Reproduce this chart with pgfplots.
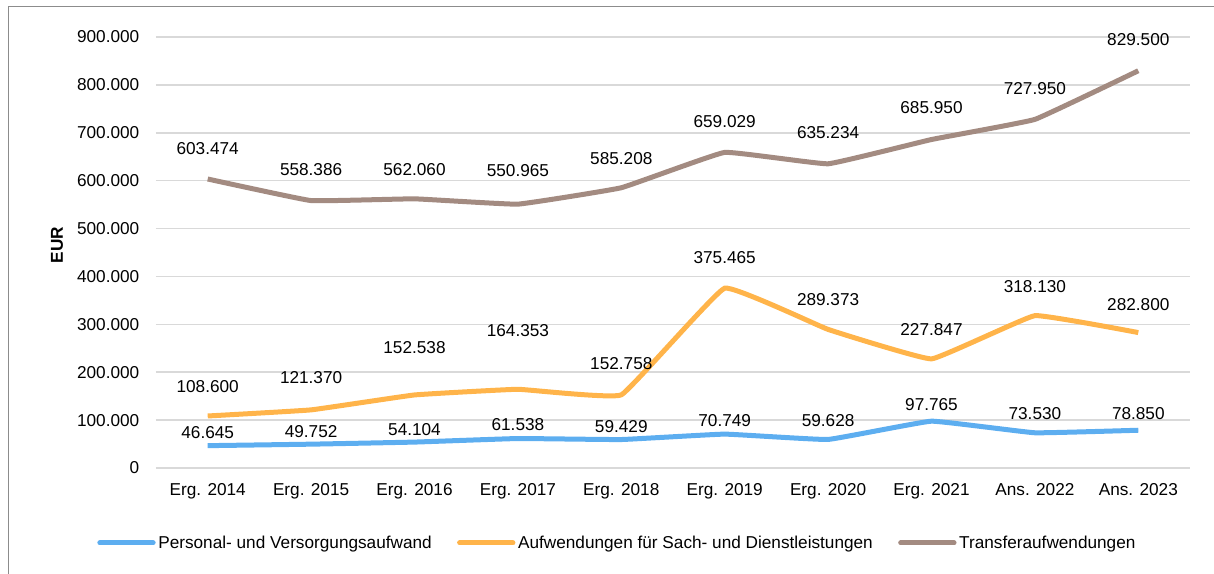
\documentclass[border=0pt]{standalone}
\usepackage{fontspec}
\setmainfont{Liberation Sans}
\usepackage{pgfplots}
\usepackage{pgfplotstable}
\pgfplotsset{compat=1.18}
\definecolor{cPers}{HTML}{5DAEF0}
\definecolor{cSach}{HTML}{FFB44A}
\definecolor{cTrans}{HTML}{A38B81}
\definecolor{cGrid}{HTML}{D9D9D9}
\definecolor{cFrame}{HTML}{8C8C8C}
\pgfplotstableread{
x pv pl plab av al alab tv tl tlab
0 46645 73100 46.645 108600 169100 108.600 603474 666100 603.474
1 49752 75200 49.752 121370 187900 121.370 558386 622300 558.386
2 54104 79400 54.104 152538 250600 152.538 562060 622300 562.060
3 61538 89800 61.538 164353 286100 164.353 550965 620200 550.965
4 59429 85600 59.429 152758 217200 152.758 585208 645300 585.208
5 70749 98100 70.749 375465 438500 375.465 659029 722500 659.029
6 59628 98100 59.628 289373 350800 289.373 635234 699500 635.234
7 97765 131600 97.765 227847 288200 227.847 685950 751700 685.950
8 73530 112800 73.530 318130 378000 318.130 727950 791400 727.950
9 78850 112800 78.850 282800 340400 282.800 829500 893700 829.500
}\data
\begin{document}
\begin{tikzpicture}[font=\fontsize{12.9}{15}\selectfont]
\useasboundingbox (0pt,0pt) rectangle (910.5pt,430.5pt);
\draw[cFrame, line width=0.75pt] (6pt,-5pt) -- (6pt,425.25pt) -- (915pt,425.25pt);
\begin{axis}[
  at={(117pt,79.5pt)}, anchor=south west,
  scale only axis, width=775.5pt, height=323.25pt,
  xmin=-0.5, xmax=9.5, ymin=0, ymax=900000,
  xtick={0,...,9},
  xticklabels={Erg. 2014,Erg. 2015,Erg. 2016,Erg. 2017,Erg. 2018,Erg. 2019,Erg. 2020,Erg. 2021,Ans. 2022,Ans. 2023},
  ytick={0,100000,...,900000},
  scaled y ticks=false,
  /pgf/number format/fixed,
  /pgf/number format/1000 sep={.},
  /pgf/number format/assume math mode=true,
  tick style={draw=none},
  axis line style={draw=none},
  ymajorgrids, grid style={cGrid, line width=1.1pt},
  yticklabel style={xshift=-9pt},
  xticklabel style={yshift=-8pt},
  ylabel={\bfseries EUR},
  ylabel style={at={(axis description cs:-0.0957,0.517)}, anchor=center, rotate=0},
  clip=false,
  legend columns=3,
  legend style={draw=none, fill=none, at={(axis description cs:-0.057,-0.174)}, anchor=west,
    inner sep=0pt, font=\fontsize{12.9}{15}\selectfont,
    /tikz/every even column/.append style={column sep=17pt},
    nodes={inner sep=2pt}},
  legend image code/.code={\draw[#1, line cap=round] (0pt,0pt) -- (40pt,0pt);},
]
\addplot[cPers, line width=3.75pt, smooth, tension=0.15] table[x=x, y=pv] {\data};
\addlegendentry{Personal- und Versorgungsaufwand}
\addplot[cSach, line width=3.75pt, smooth, tension=0.15] table[x=x, y=av] {\data};
\addlegendentry{Aufwendungen für Sach- und Dienstleistungen}
\addplot[cTrans, line width=3.75pt, smooth, tension=0.15] table[x=x, y=tv] {\data};
\addlegendentry{Transferaufwendungen}
\addplot[draw=none, forget plot, nodes near coords, point meta=explicit symbolic,
  every node near coord/.append style={anchor=center, inner sep=0pt, black}] table[x=x, y=pl, meta=plab] {\data};
\addplot[draw=none, forget plot, nodes near coords, point meta=explicit symbolic,
  every node near coord/.append style={anchor=center, inner sep=0pt, black}] table[x=x, y=al, meta=alab] {\data};
\addplot[draw=none, forget plot, nodes near coords, point meta=explicit symbolic,
  every node near coord/.append style={anchor=center, inner sep=0pt, black}] table[x=x, y=tl, meta=tlab] {\data};
\end{axis}
\end{tikzpicture}
\end{document}
